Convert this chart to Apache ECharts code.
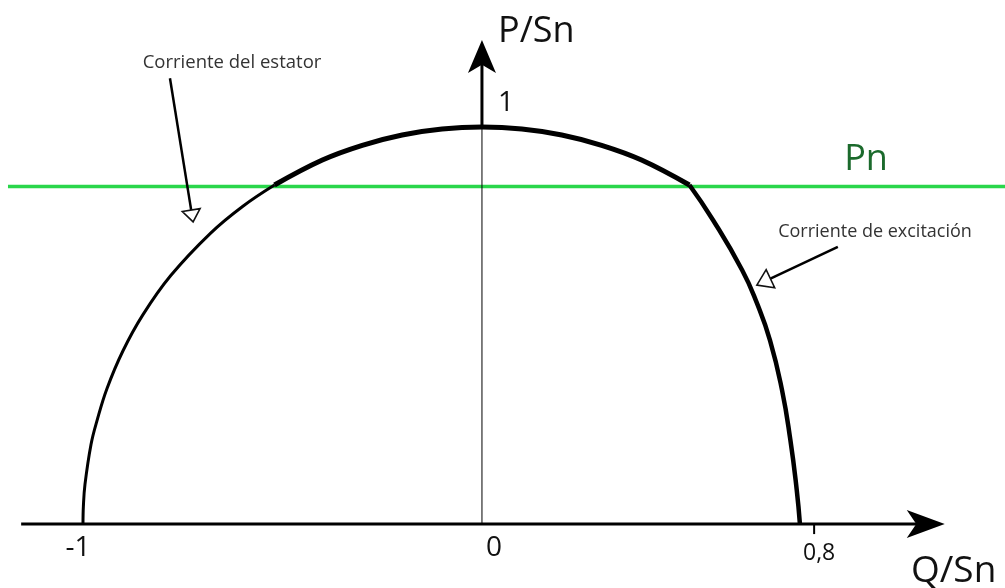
<!DOCTYPE html>
<html><head><meta charset="utf-8">
<script src="https://cdn.jsdelivr.net/npm/echarts@6/dist/echarts.min.js"></script>
<style>html,body{margin:0;padding:0;background:#fff}#c{width:1005px;height:588px}</style>
</head><body><div id="c"></div>
<script>
// Stator current limit (left part, below Pn)
const statorQ = [-1, -0.999, -0.995, -0.98, -0.965, -0.94, -0.9, -0.85, -0.78, -0.68, -0.6, -0.52];
const statorP = [0, 0.045, 0.1, 0.2, 0.26, 0.341, 0.436, 0.527, 0.626, 0.733, 0.8, 0.854];
// Stator current limit (top part, above Pn)
const topQ = [-0.52, -0.4, -0.3, -0.2, -0.1, 0, 0.1, 0.2, 0.3, 0.4, 0.52];
const topP = [0.854, 0.917, 0.954, 0.98, 0.995, 1, 0.995, 0.98, 0.954, 0.917, 0.854];
// Excitation current limit
const excQ = [0.52, 0.579, 0.652, 0.689, 0.722, 0.752, 0.773, 0.789, 0.797];
const excP = [0.854, 0.766, 0.640, 0.557, 0.463, 0.338, 0.212, 0.086, 0];
// Rated active power
const pnValue = 0.85;
// Tick labels
const xTickValues = [-1, 0, 0.8];
const xTickLabels = ['-1', '0', '0,8'];
const yTickValues = [1];
const yTickLabels = ['1'];

const zip = (a, b) => a.map((v, i) => [v, b[i]]);
const X_MIN = -1.208, X_MAX = 1.311, Y_MIN = -0.161, Y_MAX = 1.320;

const chart = echarts.init(document.getElementById('c'), null, {renderer: 'canvas'});
const FONT = '"Open Sans", "DejaVu Sans", sans-serif';

const option = {
  animation: false,
  backgroundColor: '#fff',
  grid: {left: 0, right: 0, top: 0, bottom: 0},
  xAxis: {type: 'value', min: X_MIN, max: X_MAX, show: false},
  yAxis: {type: 'value', min: Y_MIN, max: Y_MAX, show: false},
  series: [
    { // Pn line
      type: 'line', data: [[-1.188, pnValue], [X_MAX, pnValue]], symbol: 'none',
      lineStyle: {color: '#2ad64b', width: 3.5}, z: 1
    },
    { // x axis line
      type: 'line', data: [[-1.155, 0], [1.12, 0]], symbol: 'none',
      lineStyle: {color: '#000', width: 3}, z: 2
    },
    { // y axis thin
      type: 'line', data: [[0, 0], [0, 1]], symbol: 'none',
      lineStyle: {color: '#000', width: 1}, z: 2
    },
    { // y axis thick
      type: 'line', data: [[0, 1], [0, 1.16]], symbol: 'none',
      lineStyle: {color: '#000', width: 3}, z: 2
    },
    { // arrowheads
      type: 'scatter', z: 3,
      data: [
        {value: [1.160, 0], symbol: 'arrow', symbolSize: [21, 38], symbolRotate: -90},
        {value: [0, 1.219], symbol: 'arrow', symbolSize: [21, 33], symbolRotate: 0}
      ],
      itemStyle: {color: '#000', opacity: 1}
    },
    { // stator arc (left)
      type: 'line', data: zip(statorQ, statorP), smooth: 0.4, symbol: 'none',
      lineStyle: {color: '#000', width: 3}, z: 4
    },
    { // stator arc (top)
      type: 'line', data: zip(topQ, topP), smooth: 0.4, symbol: 'none',
      lineStyle: {color: '#000', width: 5}, z: 4
    },
    { // excitation limit
      type: 'line', data: zip(excQ, excP), smooth: 0.5, symbol: 'none',
      lineStyle: {color: '#000', width: 4.5}, z: 4
    }
  ]
};
chart.setOption(option);

const px = (q, p) => chart.convertToPixel({gridIndex: 0}, [q, p]);

function annotArrow(start, tip, L, W) {
  const s = px(start[0], start[1]), t = px(tip[0], tip[1]);
  const dx = t[0] - s[0], dy = t[1] - s[1];
  const len = Math.hypot(dx, dy);
  const ux = dx / len, uy = dy / len;
  const bx = t[0] - ux * L, by = t[1] - uy * L;
  const nx = -uy, ny = ux;
  return [
    {type: 'line', shape: {x1: s[0], y1: s[1], x2: bx, y2: by},
     style: {stroke: '#000', lineWidth: 2.5}, z: 10},
    {type: 'polygon', shape: {points: [[t[0], t[1]], [bx + nx * W / 2, by + ny * W / 2], [bx - nx * W / 2, by - ny * W / 2]]},
     style: {fill: '#fff', stroke: '#111', lineWidth: 1.6}, z: 11}
  ];
}

const graphics = [];
// x tick mark at 0,8
const tk = px(0.8, 0);
graphics.push({type: 'line', shape: {x1: tk[0] + 13, y1: tk[1], x2: tk[0] + 13, y2: tk[1] + 10},
  style: {stroke: '#000', lineWidth: 2}, z: 10});
// x tick labels
const xOff = [[-5, 24, 28], [12, 24, 28], [18, 29, 23]];
xTickValues.forEach((v, i) => {
  const p = px(v, 0);
  graphics.push({type: 'text', z: 12, style: {text: xTickLabels[i], x: p[0] + xOff[i][0], y: p[1] + xOff[i][1],
    font: xOff[i][2] + 'px ' + FONT, fill: '#111', align: 'center', verticalAlign: 'middle'}});
});
yTickValues.forEach((v, i) => {
  const p = px(0, v);
  graphics.push({type: 'text', z: 12, style: {text: yTickLabels[i], x: p[0] + 24, y: p[1] - 24,
    font: '28px ' + FONT, fill: '#111', align: 'center', verticalAlign: 'middle'}});
});
// Axis titles
graphics.push({type: 'text', z: 12, style: {text: 'P/Sn', x: 498, y: 32, font: '36px ' + FONT, fill: '#111', align: 'left', verticalAlign: 'middle'}});
graphics.push({type: 'text', z: 12, style: {text: 'Q/Sn', x: 911, y: 571, font: '37px ' + FONT, fill: '#111', align: 'left', verticalAlign: 'middle'}});
// Pn label
const pn = px(0, pnValue);
graphics.push({type: 'text', z: 12, style: {text: 'Pn', x: 866, y: pn[1] - 27, font: '36px ' + FONT, fill: '#1b6a2c', align: 'center', verticalAlign: 'middle'}});
// Annotations
graphics.push({type: 'text', z: 12, style: {text: 'Corriente del estator', x: 232, y: 63, font: '18.5px ' + FONT, fill: '#333', align: 'center', verticalAlign: 'middle'}});
graphics.push({type: 'text', z: 12, style: {text: 'Corriente de excitación', x: 875, y: 232, font: '18px ' + FONT, fill: '#333', align: 'center', verticalAlign: 'middle'}});
graphics.push(...annotArrow([-0.782, 1.123], [-0.724, 0.761], 12, 18));
graphics.push(...annotArrow([0.892, 0.698], [0.689, 0.602], 15, 20));

chart.setOption({graphic: graphics});
</script>
</body></html>
